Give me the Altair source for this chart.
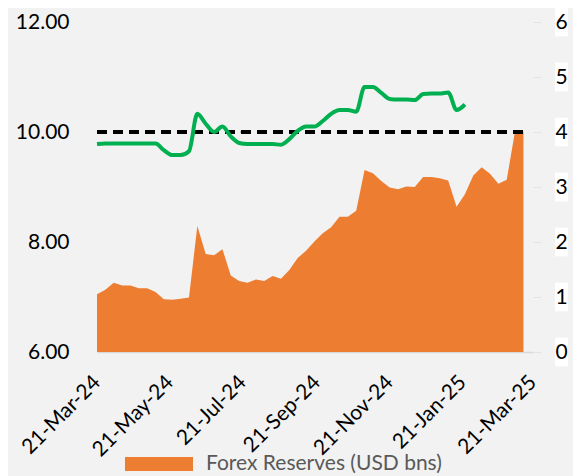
import altair as alt
import pandas as pd

dates = [
    "2024-03-21", "2024-03-28", "2024-04-04", "2024-04-11", "2024-04-18", "2024-04-25",
    "2024-05-02", "2024-05-09", "2024-05-16", "2024-05-23", "2024-05-30",
    "2024-06-06", "2024-06-13", "2024-06-20", "2024-06-27",
    "2024-07-04", "2024-07-11", "2024-07-18", "2024-07-25",
    "2024-08-01", "2024-08-08", "2024-08-15", "2024-08-22", "2024-08-29",
    "2024-09-05", "2024-09-12", "2024-09-19", "2024-09-26",
    "2024-10-03", "2024-10-10", "2024-10-17", "2024-10-24", "2024-10-31",
    "2024-11-07", "2024-11-14", "2024-11-21", "2024-11-28",
    "2024-12-05", "2024-12-12", "2024-12-19", "2024-12-26",
    "2025-01-02", "2025-01-09", "2025-01-16", "2025-01-23", "2025-01-30",
    "2025-02-06", "2025-02-13", "2025-02-20", "2025-02-27",
    "2025-03-06", "2025-03-13",
]

forex_reserves = [
    7.05, 7.13, 7.26, 7.21, 7.21, 7.16, 7.16, 7.09, 6.96, 6.95, 6.97, 6.99,
    8.29, 7.78, 7.76, 7.87, 7.39, 7.29, 7.26, 7.32, 7.29, 7.38, 7.33, 7.49,
    7.71, 7.84, 8.01, 8.16, 8.27, 8.46, 8.46, 8.57, 9.31, 9.25, 9.11, 8.99,
    8.96, 9.01, 9.00, 9.18, 9.18, 9.16, 9.12, 8.64, 8.87, 9.21, 9.36, 9.24,
    9.06, 9.13, 10.02, 10.01,
]

import_cover = [
    3.78, 3.79, 3.79, 3.79, 3.79, 3.79, 3.79, 3.79, 3.67, 3.58, 3.58, 3.65,
    4.33, 4.15, 4.00, 4.10, 3.92, 3.80, 3.78, 3.78, 3.78, 3.78, 3.77, 3.87,
    4.02, 4.10, 4.10, 4.20, 4.33, 4.40, 4.40, 4.37, 4.82, 4.82, 4.71, 4.60,
    4.59, 4.59, 4.58, 4.69, 4.70, 4.70, 4.72, 4.40, 4.50,
]

threshold = 10.0
left_ticks = [6, 8, 10, 12]
right_ticks = [0, 1, 2, 3, 4, 5, 6]
x_ticks = ["2024-03-21", "2024-05-21", "2024-07-21", "2024-09-21",
           "2024-11-21", "2025-01-21", "2025-03-21"]
legend_label = "Forex Reserves (USD bns)"

FONT = "Lato"

df_fx = pd.DataFrame({"date": dates, "fx": forex_reserves, "series": legend_label})
df_ic = pd.DataFrame({"date": dates[:len(import_cover)], "cover": import_cover})
df_rt = pd.DataFrame({"tick": right_ticks})


def dt(s):
    y, m, d = (int(v) for v in s.split("-"))
    return alt.DateTime(year=y, month=m, date=d, utc=True)


x_scale = alt.Scale(type="utc", domain=[dt(x_ticks[0]), dt(x_ticks[-1])])
x_enc = alt.X(
    "date:T",
    scale=x_scale,
    axis=alt.Axis(
        values=[dt(s) for s in x_ticks],
        format="%d-%b-%y",
        labelAngle=-45,
        labelAlign="right",
        labelBaseline="middle",
        labelPadding=27,
        labelFontSize=21,
        labelColor="#000000",
        labelFont=FONT,
        labelOverlap=False,
        labelBound=False,
        ticks=False,
        grid=False,
        domainColor="#D9D9D9",
        domainWidth=1.5,
        title=None,
    ),
)

y_left = alt.Scale(domain=[6, 12])
y_right = alt.Scale(domain=[0, 6])

area = alt.Chart(df_fx).mark_area(opacity=1).encode(
    x=x_enc,
    y=alt.Y(
        "fx:Q",
        scale=y_left,
        axis=alt.Axis(
            values=left_ticks,
            format=".2f",
            ticks=False,
            domain=False,
            grid=False,
            labelPadding=28,
            labelFontSize=21,
            labelColor="#000000",
            labelFont=FONT,
            title=None,
        ),
    ),
    y2=alt.datum(6),
    fill=alt.Fill(
        "series:N",
        scale=alt.Scale(range=["#ED7D31"]),
        legend=alt.Legend(
            title=None,
            orient="none",
            legendX=28,
            legendY=408,
            symbolType="M-1,-0.206H1V0.206H-1Z",
            symbolSize=4624,
            symbolStrokeWidth=0,
            labelFontSize=21,
            labelFont=FONT,
            labelColor="#595959",
            labelOffset=13,
            labelLimit=0,
            padding=0,
        ),
    ),
)

rule = alt.Chart(df_fx).mark_rule(color="#000000", strokeWidth=3.5, strokeDash=[10, 6]).encode(
    x=alt.datum(dt(dates[0])),
    x2=alt.datum(dt(dates[-1])),
    y=alt.datum(threshold),
)

left = alt.layer(area, rule)

right_axis = alt.Axis(
    orient="right",
    values=right_ticks,
    format="d",
    ticks=True,
    tickSize=8,
    tickColor="#E3E3E3",
    domain=False,
    grid=False,
    labelAlign="center",
    labelPadding=20,
    labelFontSize=21,
    labelColor="#000000",
    labelFont=FONT,
    title=None,
    zindex=1,
)

# white boxes behind the right-axis labels, as in the reference
label_boxes = alt.Chart(df_rt).mark_rect(color="#FFFFFF", opacity=1).encode(
    x=alt.value(458),
    x2=alt.value(471),
    y=alt.Y("y0:Q", scale=y_right, axis=right_axis),
    y2="y1:Q",
).transform_calculate(y0="datum.tick - 0.26", y1="datum.tick + 0.26")

line = alt.Chart(df_ic).mark_line(color="#00B050", strokeWidth=4, interpolate="monotone").encode(
    x=alt.X("date:T", scale=x_scale),
    y=alt.Y("cover:Q", scale=y_right, axis=right_axis),
)

right = alt.layer(line, label_boxes)

chart = alt.layer(left, right).resolve_scale(y="independent").properties(
    width=436,
    height=330,
    autosize=alt.AutoSizeParams(type="none"),
    padding={"left": 89, "top": 14, "right": 40, "bottom": 124},
    background="#F2F2F2",
).configure_view(stroke=None)

chart.save("out.html", embed_options={"renderer": "svg", "actions": False})
